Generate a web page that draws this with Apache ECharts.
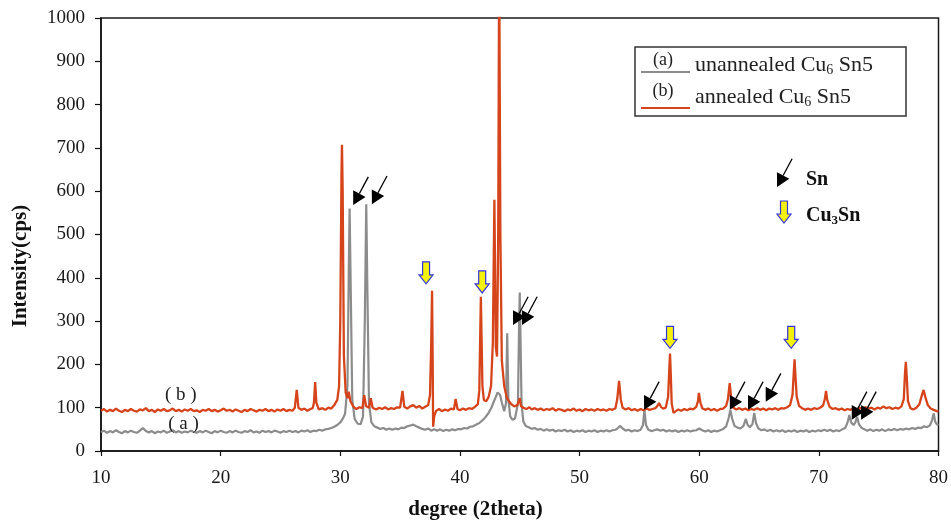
<!DOCTYPE html>
<html>
<head>
<meta charset="utf-8">
<script src="https://cdn.jsdelivr.net/npm/echarts@6/dist/echarts.min.js"></script>
<style>
  html, body { margin: 0; padding: 0; background: #fff; }
  #chart { width: 951px; height: 521px; }
</style>
</head>
<body>
<div id="chart"></div>
<script>
// XRD patterns of Cu6Sn5: [2theta (deg), intensity (cps)]
const unannealed = [
  [10,44],[10.25,47],[10.5,42],[10.75,46],[11,43],[11.25,48],[11.5,44],[11.75,41],[12,46],[12.25,43],
  [12.5,47],[12.75,44],[13,42],[13.25,47],[13.5,53],[13.75,46],[14,43],[14.25,46],[14.5,41],[14.75,45],
  [15,43],[15.25,47],[15.5,42],[15.75,45],[16,48],[16.25,43],[16.5,46],[16.75,42],[17,45],[17.25,43],
  [17.5,47],[17.75,44],[18,42],[18.25,46],[18.5,43],[18.75,47],[19,44],[19.25,41],[19.5,46],[19.75,43],
  [20,47],[20.25,44],[20.5,42],[20.75,46],[21,43],[21.25,47],[21.5,44],[21.75,42],[22,46],[22.25,44],
  [22.5,48],[22.75,43],[23,45],[23.25,42],[23.5,47],[23.75,44],[24,46],[24.25,43],[24.5,47],[24.75,45],
  [25,42],[25.25,46],[25.5,44],[25.75,47],[26,44],[26.25,46],[26.5,43],[26.75,47],[27,45],[27.25,48],
  [27.5,44],[27.75,47],[28,46],[28.25,49],[28.5,47],[28.75,50],[29,51],[29.25,53],[29.5,56],[29.75,60],
  [30.0,66],[30.2,74],[30.4,86],[30.6,150],[30.72,440],[30.78,560],[30.85,420],[31.0,120],[31.2,74],[31.45,63],
  [31.7,62],[31.9,80],[32.05,300],[32.17,570],[32.25,400],[32.4,110],[32.6,66],[32.85,57],[33.1,54],[33.35,51],
  [33.6,53],[33.85,49],[34.1,52],[34.35,49],[34.6,52],[34.85,50],[35.1,54],[35.35,53],[35.6,57],[35.85,59],
  [36.1,61],[36.35,57],[36.6,54],[36.85,51],[37.1,49],[37.35,52],[37.6,47],[37.85,50],[38.1,47],[38.35,50],
  [38.6,46],[38.85,49],[39.1,47],[39.35,50],[39.6,48],[39.85,51],[40.1,50],[40.35,53],[40.6,52],[40.85,56],
  [41.1,57],[41.35,61],[41.6,64],[41.85,70],[42.1,77],[42.35,86],[42.6,98],[42.8,112],[43.0,125],[43.15,135],
  [43.35,130],[43.5,112],[43.7,92],[43.85,110],[43.95,272],[44.05,120],[44.2,80],[44.4,72],[44.6,75],[44.85,110],
  [44.95,300],[45.0,366],[45.07,250],[45.15,110],[45.3,68],[45.5,58],[45.75,55],[46,51],[46.25,53],[46.5,49],
  [46.75,51],[47,47],[47.25,50],[47.5,47],[47.75,49],[48,45],[48.25,48],[48.5,46],[48.75,49],[49,45],
  [49.25,48],[49.5,44],[49.75,47],[50,45],[50.25,48],[50.5,44],[50.75,47],[51,45],[51.25,48],[51.5,44],
  [51.75,47],[52,45],[52.25,48],[52.5,45],[52.75,48],[53,49],[53.2,53],[53.4,58],[53.6,52],[53.85,47],
  [54.1,49],[54.35,45],[54.6,48],[54.85,46],[55.1,49],[55.3,60],[55.42,95],[55.55,60],[55.75,49],[56,46],
  [56.25,48],[56.5,50],[56.75,47],[57,49],[57.25,45],[57.5,48],[57.75,45],[58,48],[58.25,44],[58.5,47],
  [58.75,45],[59,48],[59.25,45],[59.5,47],[59.75,48],[60,52],[60.25,48],[60.5,45],[60.75,48],[61,44],
  [61.25,47],[61.5,45],[61.75,48],[62,51],[62.25,57],[62.45,75],[62.6,95],[62.75,75],[62.95,58],[63.2,54],
  [63.45,52],[63.7,58],[63.9,74],[64.05,60],[64.25,55],[64.45,62],[64.6,88],[64.75,64],[64.95,52],[65.2,48],
  [65.45,50],[65.7,46],[65.95,49],[66.2,45],[66.45,48],[66.7,45],[66.95,48],[67.2,44],[67.45,47],[67.7,45],
  [67.95,48],[68.2,44],[68.45,47],[68.7,45],[68.95,48],[69.2,44],[69.45,47],[69.7,45],[69.95,48],[70.2,46],
  [70.45,49],[70.7,46],[70.95,49],[71.2,45],[71.45,48],[71.7,46],[71.95,50],[72.2,53],[72.4,66],[72.55,83],
  [72.7,66],[72.9,60],[73.05,66],[73.2,79],[73.35,62],[73.55,54],[73.8,50],[74.05,47],[74.3,50],[74.55,46],
  [74.8,49],[75.05,47],[75.3,50],[75.55,46],[75.8,50],[76.05,48],[76.3,51],[76.55,48],[76.8,51],[77.05,49],
  [77.3,52],[77.55,50],[77.8,53],[78.05,51],[78.3,54],[78.55,53],[78.8,57],[79.05,55],[79.3,60],[79.45,70],
  [79.6,87],[79.72,68],[79.85,62],[80,60]
];

const annealed = [
  [10,93],[10.25,97],[10.5,91],[10.75,95],[11,92],[11.25,98],[11.5,93],[11.75,90],[12,95],[12.25,92],
  [12.5,97],[12.75,93],[13,91],[13.25,96],[13.5,94],[13.75,99],[14,92],[14.25,95],[14.5,90],[14.75,96],
  [15,93],[15.25,97],[15.5,92],[15.75,94],[16,98],[16.25,92],[16.5,95],[16.75,91],[17,96],[17.25,93],
  [17.5,97],[17.75,92],[18,94],[18.25,90],[18.5,95],[18.75,93],[19,97],[19.25,92],[19.5,95],[19.75,91],
  [20,94],[20.25,98],[20.5,93],[20.75,95],[21,91],[21.25,96],[21.5,93],[21.75,90],[22,95],[22.25,92],
  [22.5,97],[22.75,94],[23,91],[23.25,95],[23.5,93],[23.75,97],[24,92],[24.25,95],[24.5,91],[24.75,96],
  [25,93],[25.25,97],[25.5,92],[25.75,95],[26,93],[26.2,100],[26.36,141],[26.5,100],[26.75,95],[27,98],
  [27.25,93],[27.5,97],[27.7,99],[27.8,112],[27.9,159],[28.0,112],[28.2,96],[28.5,99],[28.75,95],[29,100],
  [29.25,98],[29.5,106],[29.75,118],[29.9,150],[30.0,300],[30.1,640],[30.14,707],[30.2,600],[30.3,220],[30.45,135],
  [30.6,122],[30.7,137],[30.85,115],[31.1,102],[31.35,97],[31.6,101],[31.85,99],[32.0,129],[32.15,104],[32.4,100],
  [32.55,122],[32.7,100],[33,96],[33.25,100],[33.5,97],[33.75,101],[34,96],[34.25,99],[34.5,97],[34.75,101],
  [35,100],[35.2,139],[35.35,102],[35.6,98],[35.85,103],[36.1,106],[36.35,100],[36.6,104],[36.85,98],[37.1,102],
  [37.35,106],[37.5,130],[37.6,250],[37.67,370],[37.72,220],[37.76,56],[37.85,80],[38.0,92],[38.25,97],[38.5,92],
  [38.75,96],[39,93],[39.25,98],[39.5,96],[39.64,120],[39.8,97],[40,94],[40.25,98],[40.5,95],[40.75,99],
  [41,97],[41.25,102],[41.5,108],[41.62,140],[41.75,356],[41.88,150],[42.0,118],[42.2,115],[42.4,125],[42.6,150],
  [42.75,250],[42.88,580],[43.0,240],[43.1,218],[43.2,500],[43.28,1150],[43.38,500],[43.5,210],[43.7,150],[43.9,125],
  [44.1,115],[44.3,108],[44.55,103],[44.8,106],[45.0,122],[45.1,104],[45.3,100],[45.55,97],[45.8,101],[46,96],
  [46.25,99],[46.5,95],[46.75,98],[47,94],[47.25,97],[47.5,95],[47.75,99],[48,93],[48.25,97],[48.5,95],
  [48.75,92],[49,96],[49.25,94],[49.5,98],[49.75,93],[50,96],[50.25,92],[50.5,97],[50.75,94],[51,96],
  [51.25,93],[51.5,97],[51.75,94],[52,96],[52.25,93],[52.5,97],[52.75,95],[53,99],[53.15,120],[53.3,162],
  [53.45,118],[53.6,100],[53.85,96],[54.1,99],[54.35,94],[54.6,97],[54.85,93],[55.1,97],[55.35,94],[55.6,98],
  [55.85,95],[56.1,97],[56.35,99],[56.5,104],[56.64,111],[56.8,102],[57.0,98],[57.2,100],[57.4,125],[57.5,190],
  [57.56,225],[57.62,180],[57.7,110],[57.85,88],[58.0,92],[58.25,96],[58.5,93],[58.75,97],[59,94],[59.25,98],
  [59.5,96],[59.75,102],[59.9,115],[59.97,134],[60.1,112],[60.25,99],[60.5,95],[60.75,98],[61,94],[61.25,97],
  [61.5,93],[61.75,97],[62,98],[62.25,104],[62.4,120],[62.55,157],[62.7,115],[62.85,100],[63.1,96],[63.35,99],
  [63.6,95],[63.85,98],[64.1,94],[64.35,97],[64.6,95],[64.85,99],[65.1,95],[65.35,98],[65.6,94],[65.85,98],
  [66.1,96],[66.35,99],[66.6,95],[66.85,99],[67.1,98],[67.35,101],[67.6,106],[67.8,130],[67.9,180],[67.97,212],
  [68.05,170],[68.15,125],[68.35,104],[68.6,99],[68.85,95],[69.1,98],[69.35,95],[69.6,99],[69.85,97],[70.1,100],
  [70.35,105],[70.5,120],[70.6,139],[70.7,118],[70.9,102],[71.15,97],[71.4,99],[71.65,95],[71.9,98],[72.15,94],
  [72.4,97],[72.65,95],[72.9,99],[73.15,96],[73.4,100],[73.65,97],[73.9,101],[74.15,98],[74.4,100],[74.65,96],
  [74.9,100],[75.15,98],[75.4,103],[75.65,99],[75.9,101],[76.15,97],[76.4,100],[76.65,98],[76.9,103],[77.1,120],
  [77.2,180],[77.27,206],[77.35,170],[77.45,115],[77.65,99],[77.9,96],[78.15,100],[78.4,108],[78.6,128],[78.75,141],
  [78.9,125],[79.1,106],[79.35,98],[79.6,95],[79.85,92],[80,91]
];

// Phase markers: tip of each arrow in data coordinates
const snMarks = [
  [31.08,568],[32.64,570],[44.44,291],[45.19,291],[55.39,95],
  [62.56,95],[64.08,95],[65.56,114],[72.75,72],[73.53,72]
];
const cu3snMarks = [[37.17,386],[41.86,365],[57.56,237],[67.69,237]];

// Curve tags next to the traces
const curveTags = ['( b )', '( a )'];
const curveTagPos = [[16.67,129],[16.9,62]];

const xTicks = [10, 80, 10];    // min, max, step
const yTicks = [0, 1000, 100];  // min, max, step

const seriesNames = ['unannealed', 'annealed'];
const colorA = '#8c8c8c';
const colorB = '#d5441b';
const serif = 'Liberation Serif';

// Black "Sn" arrow: thin shaft from upper right, filled head at the tip
function snArrow(tx, ty) {
  const ux = -0.472, uy = 0.882;   // unit direction tail -> tip
  const nx = 0.882, ny = 0.472;    // perpendicular
  const L = 32, H = 13, W = 7;
  const bx = tx - H * ux, by = ty - H * uy;
  return [
    { type: 'line', shape: { x1: tx - L * ux, y1: ty - L * uy, x2: bx, y2: by },
      style: { stroke: '#000', lineWidth: 1.3 } },
    { type: 'polygon', shape: { points: [[tx, ty], [bx + W * nx, by + W * ny], [bx - W * nx, by - W * ny]] },
      style: { fill: '#000' } }
  ];
}

// Yellow block arrow with blue outline for "Cu3Sn"
function cuArrow(tx, ty) {
  return [{
    type: 'polygon',
    shape: { points: [[tx - 3.5, ty - 22], [tx + 3.5, ty - 22], [tx + 3.5, ty - 9], [tx + 7, ty - 9],
                      [tx, ty], [tx - 7, ty - 9], [tx - 3.5, ty - 9]] },
    style: { fill: '#f4f20c', stroke: '#3535d8', lineWidth: 1.2 }
  }];
}

const chart = echarts.init(document.getElementById('chart'), null, { renderer: 'canvas' });

const legendX = 635, legendY = 47;
const keyFont = '22px "Liberation Serif"';
const keySub = { s: { font: '14px "Liberation Serif"', fill: '#222', padding: [10, 0, 0, 0] } };

chart.setOption({
  animation: false,
  backgroundColor: '#fff',
  grid: { left: 101, right: 10, top: 18, bottom: 70, show: true, borderColor: '#1a1a1a', borderWidth: 1.5 },
  xAxis: {
    type: 'value', min: xTicks[0], max: xTicks[1], interval: xTicks[2],
    axisLine: { lineStyle: { color: '#111', width: 1.5 } },
    axisTick: { length: 5, lineStyle: { color: '#111', width: 1.2 } },
    axisLabel: { fontFamily: serif, fontSize: 19, color: '#1a1a1a', margin: 18 },
    splitLine: { show: false }
  },
  yAxis: {
    type: 'value', min: yTicks[0], max: yTicks[1], interval: yTicks[2],
    axisLine: { show: true, lineStyle: { color: '#111', width: 1.5 } },
    axisTick: { show: true, length: 6, lineStyle: { color: '#111', width: 1.2 } },
    axisLabel: { fontFamily: serif, fontSize: 19, color: '#1a1a1a', margin: 16,
                 formatter: function (v) { return String(v); } },
    splitLine: { show: false }
  },
  graphic: [
    { type: 'text', left: 'center', x: 0, top: 499,
      style: { text: 'degree (2theta)', font: 'bold 21px "Liberation Serif"', fill: '#111' } },
    { type: 'text', x: 21, y: 266, rotation: Math.PI / 2,
      style: { text: 'Intensity(cps)', font: 'bold 21px "Liberation Serif"', fill: '#111',
               align: 'center', verticalAlign: 'middle' } },
    // series key box
    { type: 'rect', shape: { x: legendX, y: legendY, width: 271, height: 69 },
      style: { fill: '#fff', stroke: '#333', lineWidth: 1.5 }, z: 10 },
    { type: 'line', shape: { x1: 641, y1: 72, x2: 690, y2: 72 }, style: { stroke: colorA, lineWidth: 2 }, z: 11 },
    { type: 'line', shape: { x1: 641, y1: 108, x2: 690, y2: 108 }, style: { stroke: colorB, lineWidth: 2.2 }, z: 11 },
    { type: 'text', x: 663, y: 60, z: 11,
      style: { text: '(a)', font: '18px "Liberation Serif"', fill: '#222', align: 'center', verticalAlign: 'middle' } },
    { type: 'text', x: 663, y: 91, z: 11,
      style: { text: '(b)', font: '18px "Liberation Serif"', fill: '#222', align: 'center', verticalAlign: 'middle' } },
    { type: 'text', x: 695, y: 65, z: 11,
      style: { text: seriesNames[0] + ' Cu{s|6} Sn5', font: keyFont, fill: '#222',
               verticalAlign: 'middle', rich: keySub } },
    { type: 'text', x: 695, y: 97, z: 11,
      style: { text: seriesNames[1] + ' Cu{s|6} Sn5', font: keyFont, fill: '#222',
               verticalAlign: 'middle', rich: keySub } },
    // phase key
    { type: 'group', children: snArrow(777, 187) },
    { type: 'text', x: 806, y: 180,
      style: { text: 'Sn', font: 'bold 20px "Liberation Serif"', fill: '#111', verticalAlign: 'middle' } },
    { type: 'group', children: cuArrow(784, 223) },
    { type: 'text', x: 806, y: 216,
      style: { text: 'Cu{s|3}Sn', font: 'bold 20px "Liberation Serif"', fill: '#111', verticalAlign: 'middle',
               rich: { s: { font: 'bold 13px "Liberation Serif"', fill: '#111', padding: [9, 0, 0, 0] } } } }
  ],
  series: [
    { name: seriesNames[0], type: 'line', data: unannealed, showSymbol: false, symbol: 'none',
      lineStyle: { color: colorA, width: 2.2 }, itemStyle: { color: colorA }, z: 2 },
    { name: seriesNames[1], type: 'line', data: annealed, showSymbol: false, symbol: 'none',
      lineStyle: { color: colorB, width: 2.3 }, itemStyle: { color: colorB }, z: 3 },
    { type: 'custom', data: snMarks, z: 5, clip: false,
      renderItem: function (params, api) {
        const p = api.coord([api.value(0), api.value(1)]);
        return { type: 'group', children: snArrow(p[0], p[1]) };
      } },
    { type: 'custom', data: cu3snMarks, z: 5, clip: false,
      renderItem: function (params, api) {
        const p = api.coord([api.value(0), api.value(1)]);
        return { type: 'group', children: cuArrow(p[0], p[1]) };
      } },
    { type: 'custom', data: curveTagPos, z: 6, clip: false,
      renderItem: function (params, api) {
        const p = api.coord([api.value(0), api.value(1)]);
        return { type: 'text', x: p[0], y: p[1],
                 style: { text: curveTags[params.dataIndex], font: '19px "Liberation Serif"', fill: '#222',
                          align: 'center', verticalAlign: 'middle' } };
      } }
  ]
});
</script>
</body>
</html>
